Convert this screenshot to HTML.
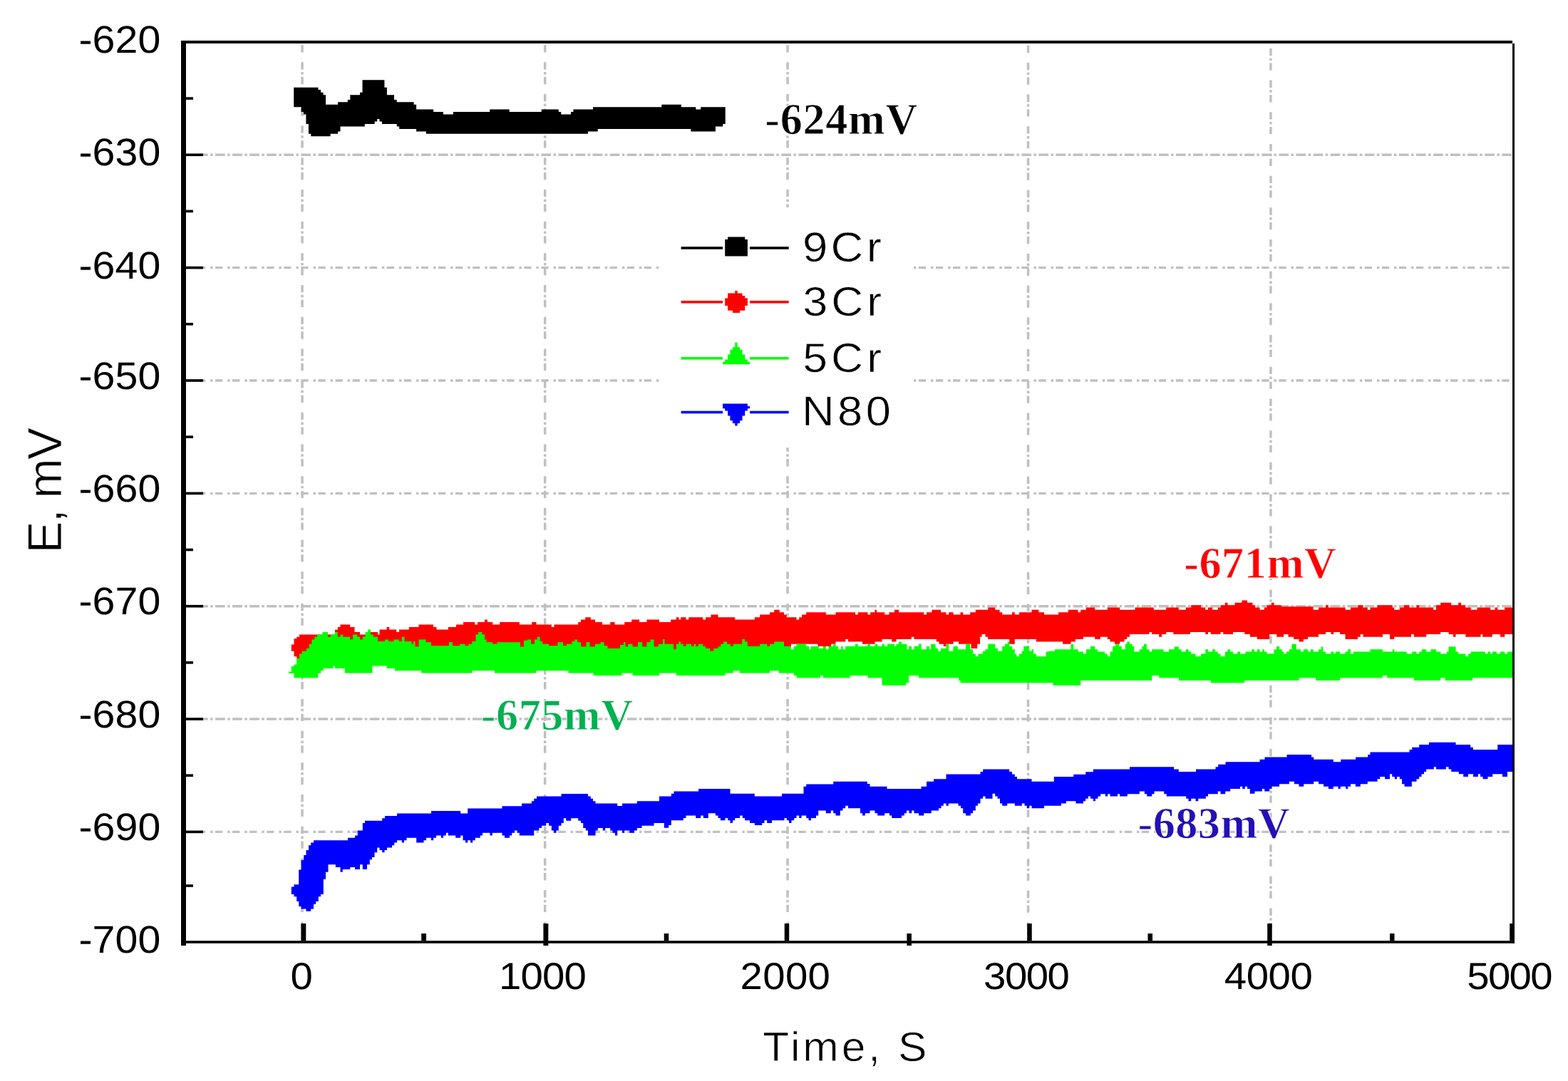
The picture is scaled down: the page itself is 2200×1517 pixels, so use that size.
<!DOCTYPE html>
<html lang="en"><head><meta charset="utf-8"><title>Open circuit potential E (mV) vs Time (S)</title>
<style>html,body{margin:0;padding:0;background:#fff;}body{width:2200px;height:1517px;overflow:hidden;}svg{display:block;}text{white-space:pre;}</style>
</head><body>
<svg width="2200" height="1517" viewBox="0 0 2200 1517" shape-rendering="geometricPrecision">
<rect x="0" y="0" width="2200" height="1517" fill="#ffffff"/>
<g id="grid" fill="none" stroke="#c0c0c0">
<line x1="277.94" y1="217.30" x2="2122" y2="217.30" stroke-width="3.44" stroke-dasharray="13.75 3.44 3.44 3.44"/>
<line x1="277.94" y1="375.65" x2="2122" y2="375.65" stroke-width="3.44" stroke-dasharray="10.3 6.89 3.44 3.44"/>
<line x1="277.94" y1="534.00" x2="2122" y2="534.00" stroke-width="3.44" stroke-dasharray="10.3 6.89 3.44 3.44"/>
<line x1="277.94" y1="692.35" x2="2122" y2="692.35" stroke-width="3.44" stroke-dasharray="10.3 6.89 3.44 3.44"/>
<line x1="277.94" y1="850.70" x2="2122" y2="850.70" stroke-width="3.44" stroke-dasharray="13.75 3.44 3.44 3.44"/>
<line x1="277.94" y1="1009.05" x2="2122" y2="1009.05" stroke-width="3.44" stroke-dasharray="13.75 3.44 3.44 3.44"/>
<line x1="277.94" y1="1167.40" x2="2122" y2="1167.40" stroke-width="3.44" stroke-dasharray="10.3 6.89 3.44 3.44"/>
<line x1="424.05" y1="61" x2="424.05" y2="1320.2" stroke-width="3.5" stroke-dasharray="10.3 3.45 3.45 3.45 10.3 13.74" stroke-dashoffset="18.50"/>
<line x1="764.65" y1="61" x2="764.65" y2="1320.2" stroke-width="3.5" stroke-dasharray="10.3 3.45 3.45 3.45 10.3 13.74" stroke-dashoffset="18.50"/>
<line x1="1105.05" y1="61" x2="1105.05" y2="1320.2" stroke-width="3.5" stroke-dasharray="10.3 3.45 3.45 3.45 10.3 13.74" stroke-dashoffset="18.50"/>
<line x1="1442.55" y1="61" x2="1442.55" y2="1320.2" stroke-width="3.5" stroke-dasharray="10.3 3.45 3.45 3.45 10.3 13.74" stroke-dashoffset="17.80"/>
<line x1="1782.95" y1="61" x2="1782.95" y2="1320.2" stroke-width="3.5" stroke-dasharray="10.3 3.45 3.45 3.45 10.3 13.74" stroke-dashoffset="37.80"/>
</g>
<g id="annotations" shape-rendering="auto" text-rendering="geometricPrecision">
<text transform="translate(1073.35,187.7)" font-family="'Liberation Serif', serif" font-weight="bold" font-size="62.12px" letter-spacing="0.7px" fill="#000000" stroke="#ffffff" stroke-width="0.8" stroke-linejoin="round">-624mV</text>
<text transform="translate(1661.22,810.5)" font-family="'Liberation Serif', serif" font-weight="bold" font-size="62.34px" letter-spacing="0.49px" fill="#ff0000" stroke="#ffffff" stroke-width="0.8" stroke-linejoin="round">-671mV</text>
<text transform="translate(674.78,1023.8)" font-family="'Liberation Serif', serif" font-weight="bold" font-size="62.12px" letter-spacing="0.56px" fill="#00b050" stroke="#ffffff" stroke-width="0.8" stroke-linejoin="round">-675mV</text>
<text transform="translate(1596.58,1175.5)" font-family="'Liberation Serif', serif" font-weight="bold" font-size="62.18px" letter-spacing="0.47px" fill="#2410b4" stroke="#ffffff" stroke-width="0.8" stroke-linejoin="round">-683mV</text>
</g>
<rect x="925" y="291" width="357" height="337" fill="#ffffff"/>
<g id="traces" stroke="none">
<polygon fill="#000000" points="412.2,122.8 446.5,122.8 446.5,126 450,126 450,129.7 453.5,129.7 453.5,133.2 457,133.2 457,146.7 474.1,146.7 474.1,143.2 487.8,143.2 487.8,139.9 491.3,139.9 491.3,133.2 505,133.2 505,129.7 508.5,129.7 508.5,112.2 539.4,112.2 539.4,122.8 542.9,122.8 542.9,133.2 553,133.2 553,139.9 556.7,139.9 556.7,143.2 580.6,143.2 580.6,146.7 584.1,146.7 584.1,153.5 608.1,153.5 608.1,157 621.9,157 621.9,160.4 635.8,160.4 635.8,157 687.2,157 687.2,153.5 714.7,153.5 714.7,157 750,157 759.7,157 759.7,153.5 783.8,153.5 783.8,157 787.2,157 787.2,160.4 801,160.4 801,157 804.4,157 804.4,153.5 832,153.5 832,150.2 928.3,150.2 928.3,146.7 955.8,146.7 955.8,150.2 976.3,150.2 976.3,153.5 983.2,153.5 983.2,150.2 1017.7,150.2 1017.7,174.1 1014.2,174.1 1014.2,177.4 1003.9,177.4 1003.9,184.4 969.3,184.4 969.3,180.9 838.7,180.9 838.7,184.4 824.9,184.4 824.9,187.8 750,187.8 597.8,187.8 597.8,184.4 584.1,184.4 584.1,180.9 560.2,180.9 560.2,177.4 556.7,177.4 556.7,174.1 536,174.1 536,170.6 532.5,170.6 532.5,167.1 529.2,167.1 529.2,170.6 525.7,170.6 525.7,174.1 511.8,174.1 511.8,177.4 477.5,177.4 477.5,184.4 474.1,184.4 474.1,187.8 463.6,187.8 463.6,191.2 436.3,191.2 436.3,187.8 432.9,187.8 432.9,174.1 429.4,174.1 429.4,160.4 425.9,160.4 425.9,157 422.6,157 422.6,150.2 412.2,150.2"/>
<polygon fill="#ff0000" points="408.8,904.5 412.5,904.5 412.5,896.2 416.2,896.2 416.2,893.8 420,893.8 420,890.5 470,890.5 470,883.8 473.8,883.8 473.8,880 477.5,880 477.5,876.5 491.2,876.5 491.2,880 497.5,880 497.5,887 505,887 505,890.5 518.8,890.5 518.8,887 530,887 530,890.5 532.5,890.5 532.5,883.5 542.5,883.5 542.5,880 546.2,880 546.2,883.5 556.2,883.5 556.2,887 560,887 560,883.5 573.8,883.5 573.8,880 587.5,880 587.5,876.5 608,876.5 608,880 612.5,880 612.5,883.5 628.8,883.5 628.8,880 640,880 640,876.5 650,876.5 650,873 666.2,873 666.2,876.5 670,876.5 670,873 680,873 680,869.5 683.8,869.5 683.8,873 691.2,873 691.2,876.5 701.2,876.5 701.2,873 728.8,873 728.8,876.5 746.2,876.5 746.2,873 752.5,873 752.5,876.5 773.8,876.5 773.8,880 777.5,880 777.5,876.5 811.2,876.5 811.2,873 815,873 815,869.5 821.2,869.5 821.2,866.2 828.8,866.2 828.8,869.5 835,869.5 835,873 845,873 845,876.5 856.2,876.5 856.2,873 862.5,873 862.5,876.5 876.2,876.5 876.2,873 886.2,873 886.2,869.5 897,869.5 897,873 907.5,873 907.5,869.5 925,869.5 925,873 930,873 941.2,873 941.2,869.5 948.8,869.5 948.8,866.2 952.5,866.2 952.5,869.5 955,869.5 955,866.2 962.5,866.2 962.5,869.5 966.2,869.5 966.2,866.2 986.2,866.2 986.2,869.5 990,869.5 990,866.2 997.5,866.2 997.5,862.5 1007.5,862.5 1007.5,866.2 1031.2,866.2 1031.2,869.5 1058.8,869.5 1058.8,866.2 1066.2,866.2 1066.2,862.5 1080,862.5 1080,859.2 1086.2,859.2 1086.2,855.8 1093.8,855.8 1093.8,859.2 1100,859.2 1100,862.5 1103.8,862.5 1103.8,866.2 1117.5,866.2 1117.5,869.5 1121.2,869.5 1121.2,866.2 1125,866.2 1125,862.5 1131.2,862.5 1131.2,859.2 1158.8,859.2 1158.8,862.5 1172.5,862.5 1172.5,859.2 1200,859.2 1200,862.5 1203.8,862.5 1203.8,859.2 1217.5,859.2 1217.5,862.5 1221.2,862.5 1221.2,859.2 1227.5,859.2 1227.5,855.8 1230,855.8 1230,859.2 1241.2,859.2 1241.2,862.5 1247.5,862.5 1247.5,859.2 1255,859.2 1255,855.8 1261.2,855.8 1261.2,859.2 1296.2,859.2 1296.2,862.5 1300,862.5 1300,859.2 1307.5,859.2 1307.5,855.8 1320,855.8 1320,859.2 1327.5,859.2 1327.5,862.5 1331.2,862.5 1331.2,859.2 1337.5,859.2 1337.5,862.5 1347.5,862.5 1347.5,859.2 1351.2,859.2 1351.2,862.5 1361.2,862.5 1361.2,859.2 1368.8,859.2 1368.8,855.8 1386.2,855.8 1386.2,852.5 1396.2,852.5 1396.2,855.8 1402.5,855.8 1402.5,859.2 1406.2,859.2 1406.2,862.5 1420,862.5 1420,859.2 1423.8,859.2 1423.8,862.5 1430,862.5 1430,859.2 1447.5,859.2 1447.5,855.8 1457.5,855.8 1457.5,859.2 1465,859.2 1465,862.5 1480,862.5 1485,862.5 1485,859.2 1498.8,859.2 1498.8,855.8 1512.5,855.8 1512.5,859.2 1516.2,859.2 1516.2,855.8 1523.8,855.8 1523.8,852.5 1536.2,852.5 1536.2,855.8 1553.8,855.8 1553.8,852.5 1571.2,852.5 1571.2,855.8 1592.5,855.8 1592.5,852.5 1618.8,852.5 1618.8,855.8 1636.2,855.8 1636.2,852.5 1653.8,852.5 1653.8,855.8 1663.8,855.8 1663.8,852.5 1671.2,852.5 1671.2,849.2 1685,849.2 1685,852.5 1691.2,852.5 1691.2,855.8 1695,855.8 1695,852.5 1701.2,852.5 1701.2,855.8 1708.8,855.8 1708.8,852.5 1712.5,852.5 1712.5,849.2 1718.8,849.2 1718.8,845.8 1722.5,845.8 1722.5,849.2 1732.5,849.2 1732.5,845.8 1742.5,845.8 1742.5,842.5 1750,842.5 1750,845.8 1757.5,845.8 1757.5,849.2 1761.2,849.2 1761.2,852.5 1767.5,852.5 1767.5,855.8 1773.8,855.8 1773.8,852.5 1777.5,852.5 1777.5,849.2 1783.8,849.2 1783.8,845.8 1787.5,845.8 1787.5,849.2 1797.5,849.2 1797.5,851.2 1842.5,851.2 1842.5,855.8 1850,855.8 1850,852.5 1860,852.5 1860,849.2 1863.8,849.2 1863.8,852.5 1887.5,852.5 1887.5,855.8 1895,855.8 1895,852.5 1905,852.5 1905,849.2 1912.5,849.2 1912.5,852.5 1918.8,852.5 1918.8,855.8 1922.5,855.8 1922.5,852.5 1932.5,852.5 1932.5,849.2 1953.8,849.2 1953.8,852.5 1956.2,852.5 1956.2,855.8 1963.8,855.8 1963.8,852.5 1970,852.5 1970,849.2 1977.5,849.2 1977.5,852.5 1987.5,852.5 1987.5,849.2 1991.2,849.2 1991.2,852.5 2011.2,852.5 2011.2,855.8 2015,855.8 2015,849.2 2021.2,849.2 2021.2,845.8 2030,845.8 2036.2,845.8 2036.2,849.2 2046.2,849.2 2046.2,845.8 2050,845.8 2050,849.2 2056.2,849.2 2056.2,852.5 2063.8,852.5 2063.8,855.8 2072.5,855.8 2072.5,852.5 2091.2,852.5 2091.2,855.8 2097.5,855.8 2097.5,852.5 2101.2,852.5 2101.2,855.8 2111.2,855.8 2111.2,852.5 2122,852.5 2122,890 2111.2,890 2111.2,893.8 2105,893.8 2105,890 2093.8,890 2093.8,893.8 2080,893.8 2080,890 2077.5,890 2077.5,893.8 2056.2,893.8 2056.2,890 2042.5,890 2042.5,893.8 2038.8,893.8 2038.8,890 2032.5,890 2032.5,887 2030,887 2021.2,887 2021.2,890 2001.2,890 2001.2,893.8 1983.8,893.8 1983.8,890 1980,890 1980,893.8 1956.2,893.8 1956.2,897 1950,897 1950,890 1940,890 1940,893.8 1912.5,893.8 1912.5,890 1908.8,890 1908.8,893.8 1905,893.8 1905,897 1887.5,897 1887.5,890 1880,890 1880,887 1871.2,887 1871.2,890 1867.5,890 1867.5,887 1860,887 1860,890 1850,890 1850,893.8 1835,893.8 1835,897 1828.8,897 1828.8,900.5 1822.5,900.5 1822.5,897 1815,897 1815,893.8 1807.5,893.8 1807.5,890 1801.2,890 1801.2,893.8 1791.2,893.8 1791.2,890 1781.2,890 1781.2,897 1763.8,897 1763.8,893.8 1753.8,893.8 1753.8,890 1746.2,890 1746.2,887 1730,887 1730,890 1716.2,890 1716.2,887 1712.5,887 1712.5,890 1698.8,890 1698.8,887 1695,887 1695,890 1691.2,890 1691.2,887 1670,887 1670,890 1646.2,890 1646.2,887 1636.2,887 1636.2,890 1630,890 1630,893.8 1626.2,893.8 1626.2,890 1616.2,890 1616.2,887 1612.5,887 1612.5,890 1585,890 1585,893.8 1581.2,893.8 1581.2,897 1577.5,897 1577.5,900.5 1571.2,900.5 1571.2,903.8 1563.8,903.8 1563.8,900.5 1557.5,900.5 1557.5,897 1553.8,897 1553.8,893.8 1543.8,893.8 1543.8,897 1536.2,897 1536.2,893.8 1520,893.8 1520,897 1508.8,897 1508.8,900.5 1502.5,900.5 1502.5,903.8 1491.2,903.8 1491.2,900.5 1480,900.5 1453.8,900.5 1453.8,897 1423.8,897 1423.8,903.8 1416.2,903.8 1416.2,897 1386.2,897 1386.2,893.8 1382.5,893.8 1382.5,890 1377.5,890 1377.5,893.8 1375,893.8 1375,903.8 1371.2,903.8 1371.2,910 1362.5,910 1362.5,903.8 1345,903.8 1345,900.5 1337.5,900.5 1337.5,903.8 1327.5,903.8 1327.5,907 1323.8,907 1323.8,903.8 1317.5,903.8 1317.5,900.5 1313.8,900.5 1313.8,897 1282.5,897 1282.5,893.8 1278.8,893.8 1278.8,897 1257.5,897 1257.5,900.5 1251.2,900.5 1251.2,897 1237.5,897 1237.5,900.5 1227.5,900.5 1227.5,903.8 1210,903.8 1210,900.5 1190,900.5 1190,897 1186.2,897 1186.2,900.5 1172.5,900.5 1172.5,903.8 1166.2,903.8 1166.2,907 1147.5,907 1147.5,903.8 1110,903.8 1110,915 930,915 930,925 416.2,925 416.2,921.2 412.5,921.2 412.5,913.8 408.8,913.8"/>
<polygon fill="#00ff00" points="405,942.5 408.8,942.5 408.8,935 412.5,935 412.5,932.5 416.2,932.5 416.2,923.8 420,923.8 420,917.5 423.8,917.5 423.8,913.8 430,913.8 430,910 433.8,910 433.8,903.8 437.5,903.8 437.5,897.5 441.2,897.5 441.2,893.8 445,893.8 445,890.5 452.5,890.5 452.5,887 460,887 460,893.8 463.8,893.8 463.8,890.5 466.2,890.5 466.2,890 470,890 470,887 473.8,887 473.8,893.8 477.5,893.8 477.5,890.5 481.2,890.5 481.2,893.8 491.2,893.8 491.2,897.5 495,897.5 495,890.5 501.2,890.5 501.2,893.8 505,893.8 505,897.5 508.8,897.5 508.8,893.8 512.5,893.8 512.5,887 516.2,887 516.2,883.5 520,883.5 520,890.5 523.8,890.5 523.8,893.8 530,893.8 530,900 540,900 540,897.5 545,897.5 545,900 552.5,900 552.5,897.5 560,897.5 560,900 563.8,900 563.8,893.8 567.5,893.8 567.5,900 577.5,900 577.5,903.8 580,903.8 580,900 582.5,900 582.5,907.5 587.5,907.5 587.5,897.5 593.8,897.5 597.5,897.5 597.5,901.2 605,901.2 605,906.2 625,906.2 630,906.2 630,901.2 635,901.2 635,906.2 645,906.2 645,903.8 652.5,903.8 652.5,906.2 657.5,906.2 657.5,903.8 662.5,903.8 662.5,900 667.5,900 667.5,890.5 671.2,890.5 671.2,887 676.2,887 676.2,890.5 680,890.5 680,897.5 682.5,897.5 682.5,901.2 691.2,901.2 691.2,903.8 697.5,903.8 697.5,901.2 727.5,901.2 730,901.2 730,907.5 735,907.5 735,898.8 740,898.8 740,897.5 745,897.5 745,903.8 750,903.8 750,897.5 753.8,897.5 753.8,893.8 757.5,893.8 757.5,900 761.2,900 761.2,903.8 770,903.8 770,906.2 780,906.2 782.5,906.2 782.5,901.2 790,901.2 790,906.2 795,906.2 795,903.8 802.5,903.8 802.5,900 806.2,900 806.2,897.5 810,897.5 810,901.2 815,901.2 815,907.5 822.5,907.5 822.5,901.2 827.5,901.2 827.5,907.5 835,907.5 835,903.8 842.5,903.8 842.5,901.2 847.5,901.2 847.5,906.2 852.5,906.2 852.5,910 865,910 870,910 870,905 875,905 875,901.2 877.5,901.2 877.5,907.5 881.2,907.5 881.2,903.8 887.5,903.8 887.5,907.5 895,907.5 895,901.2 901.2,901.2 901.2,907.5 907.5,907.5 907.5,901.2 912.5,901.2 912.5,897.5 917.5,897.5 917.5,907.5 923.8,907.5 923.8,903.8 930,903.8 930,897 932.5,897 932.5,903.8 945,903.8 945,911.2 948.8,911.2 948.8,903.8 952.5,903.8 952.5,900.5 955,900.5 955,903.8 958.8,903.8 958.8,907 962.5,907 962.5,903.8 970,903.8 970,907 973.8,907 973.8,903.8 976.2,903.8 976.2,907 980,907 980,903.8 986.2,903.8 986.2,907 990,907 990,910 996.2,910 996.2,913.8 1001.2,913.8 1001.2,910 1007.5,910 1007.5,907.5 1011.2,907.5 1011.2,903.8 1015,903.8 1015,900.5 1020,900.5 1020,903.8 1025,903.8 1025,907 1028.8,907 1028.8,903.8 1041.2,903.8 1041.2,897 1045,897 1045,900.5 1048.8,900.5 1048.8,907 1066.2,907 1066.2,903.8 1076.2,903.8 1076.2,907 1080,907 1080,903.8 1086.2,903.8 1086.2,900.5 1100,900.5 1100,907 1110,907 1110,911.2 1113.8,911.2 1113.8,907 1117.5,907 1117.5,903.8 1131.2,903.8 1131.2,907 1135,907 1135,911.2 1137.5,911.2 1137.5,907 1148.8,907 1148.8,910 1155,910 1155,907 1158.8,907 1158.8,911.2 1162.5,911.2 1162.5,907 1168.8,907 1168.8,903.8 1172.5,903.8 1172.5,907 1176.2,907 1176.2,911.2 1180,911.2 1180,907 1182.5,907 1182.5,911.2 1186.2,911.2 1186.2,907 1200,907 1200,903.8 1203.8,903.8 1203.8,907 1217.5,907 1217.5,903.8 1221.2,903.8 1221.2,907 1227.5,907 1227.5,903.8 1231.2,903.8 1231.2,907 1237.5,907 1237.5,903.8 1241.2,903.8 1241.2,907 1245,907 1245,903.8 1255,903.8 1255,907 1257.5,907 1257.5,903.8 1261.2,903.8 1261.2,900.5 1265,900.5 1265,903.8 1272.5,903.8 1272.5,911.2 1275,911.2 1275,907 1278.8,907 1278.8,911.2 1282.5,911.2 1282.5,907 1288.8,907 1288.8,903.8 1292.5,903.8 1292.5,911.2 1300,911.2 1300,907 1303.8,907 1303.8,911.2 1306.2,911.2 1306.2,903.8 1312.5,903.8 1312.5,910 1316.2,910 1316.2,913.8 1320,913.8 1320,910 1327.5,910 1327.5,903.8 1331.2,903.8 1331.2,913.8 1337.5,913.8 1337.5,907 1343.8,907 1343.8,911.2 1355,911.2 1355,903.8 1361.2,903.8 1361.2,911.2 1365,911.2 1365,917.5 1368.8,917.5 1368.8,921.2 1372.5,921.2 1372.5,917.5 1378.8,917.5 1378.8,913.8 1382.5,913.8 1382.5,911.2 1386.2,911.2 1386.2,903.8 1396.2,903.8 1396.2,910 1400,910 1400,913.8 1406.2,913.8 1406.2,907 1410,907 1410,903.8 1413.8,903.8 1413.8,900.5 1416.2,900.5 1416.2,907 1420,907 1420,911.2 1423.8,911.2 1423.8,917.5 1426.2,917.5 1426.2,921.2 1430,921.2 1430,917.5 1433.8,917.5 1433.8,913.8 1436.2,913.8 1436.2,907 1443.8,907 1443.8,913.8 1447.5,913.8 1447.5,911.2 1450,911.2 1450,917.5 1453.8,917.5 1453.8,921.2 1467.5,921.2 1467.5,914.5 1471.2,914.5 1471.2,913.8 1480,913.8 1480,911.2 1502.5,911.2 1502.5,903.8 1506.2,903.8 1506.2,911.2 1512.5,911.2 1512.5,914.5 1520,914.5 1520,917.5 1523.8,917.5 1523.8,911.2 1530,911.2 1530,907 1536.2,907 1536.2,911.2 1540,911.2 1540,914.5 1550,914.5 1550,917.5 1553.8,917.5 1553.8,921.2 1557.5,921.2 1557.5,914.5 1561.2,914.5 1561.2,907 1565,907 1565,903.8 1570,903.8 1570,907 1573.8,907 1573.8,911.2 1578.8,911.2 1578.8,903.8 1581.2,903.8 1581.2,900.5 1585,900.5 1585,903.8 1588.8,903.8 1588.8,907 1591.2,907 1591.2,914.5 1598.8,914.5 1598.8,911.2 1602.5,911.2 1602.5,907 1605,907 1605,903.8 1608.8,903.8 1608.8,911.2 1612.5,911.2 1612.5,914.5 1616.2,914.5 1616.2,911.2 1632.5,911.2 1632.5,914.5 1640,914.5 1640,911.2 1647.5,911.2 1647.5,907.5 1653.8,907.5 1653.8,911.2 1657.5,911.2 1657.5,914.5 1663.8,914.5 1663.8,911.2 1667.5,911.2 1667.5,914.5 1671.2,914.5 1671.2,917.5 1677.5,917.5 1677.5,921.2 1685,921.2 1685,917.5 1691.2,917.5 1691.2,911.2 1695,911.2 1695,914.5 1701.2,914.5 1701.2,911.2 1705,911.2 1705,914.5 1708.8,914.5 1708.8,917.5 1712.5,917.5 1712.5,921.2 1718.8,921.2 1718.8,914.5 1722.5,914.5 1722.5,911.2 1726.2,911.2 1726.2,914.5 1730,914.5 1730,917.5 1736.2,917.5 1736.2,914.5 1740,914.5 1740,917.5 1747.5,917.5 1747.5,914.5 1756.2,914.5 1756.2,911.2 1760,911.2 1760,914.5 1763.8,914.5 1763.8,911.2 1767.5,911.2 1767.5,914.5 1771.2,914.5 1771.2,911.2 1773.8,911.2 1773.8,914.5 1777.5,914.5 1777.5,917.5 1787.5,917.5 1787.5,911.2 1791.2,911.2 1791.2,907 1795,907 1795,911.2 1798.8,911.2 1798.8,914.5 1801.2,914.5 1801.2,917.5 1805,917.5 1805,914.5 1808.8,914.5 1808.8,911.2 1812.5,911.2 1812.5,903.8 1818.8,903.8 1818.8,911.2 1825,911.2 1825,914.5 1828.8,914.5 1828.8,911.2 1835,911.2 1835,914.5 1838.8,914.5 1838.8,911.2 1842.5,911.2 1842.5,914.5 1850,914.5 1850,911.2 1853.8,911.2 1853.8,907.5 1856.2,907.5 1856.2,914.5 1860,914.5 1860,917.5 1867.5,917.5 1867.5,914.5 1871.2,914.5 1871.2,917.5 1873.8,917.5 1873.8,914.5 1880,914.5 1880,917.5 1887.5,917.5 1887.5,914.5 1891.2,914.5 1891.2,911.2 1895,911.2 1895,917.5 1898.8,917.5 1898.8,914.5 1922.5,914.5 1922.5,911.2 1940,911.2 1940,914.5 1953.8,914.5 1953.8,911.2 1956.2,911.2 1956.2,914.5 1973.8,914.5 1973.8,917.5 1981.2,917.5 1981.2,914.5 1987.5,914.5 1987.5,917.5 1991.2,917.5 1991.2,914.5 1995,914.5 1995,911.2 2001.2,911.2 2001.2,914.5 2007.5,914.5 2007.5,911.2 2015,911.2 2015,914.5 2021.2,914.5 2021.2,917.5 2030,917.5 2030,914.5 2032.5,914.5 2032.5,907.5 2042.5,907.5 2042.5,914.5 2046.2,914.5 2046.2,917.5 2056.2,917.5 2056.2,921.2 2060,921.2 2060,917.5 2063.8,917.5 2063.8,914.5 2083.8,914.5 2083.8,917.5 2087.5,917.5 2087.5,914.5 2091.2,914.5 2091.2,917.5 2093.8,917.5 2093.8,914.5 2100,914.5 2100,917.5 2105,917.5 2105,914.5 2111.2,914.5 2111.2,917.5 2115,917.5 2115,914.5 2122,914.5 2122,951.2 2066.2,951.2 2066.2,955 2030,955 2027.5,955 2027.5,951.2 2021.2,951.2 2021.2,955 1983.8,955 1983.8,951.2 1946.2,951.2 1946.2,948 1940,948 1940,951.2 1880,951.2 1880,955 1846.2,955 1846.2,951.2 1822.5,951.2 1822.5,955 1746.2,955 1746.2,958.2 1698.8,958.2 1698.8,955 1653.8,955 1653.8,951.2 1626.2,951.2 1626.2,948 1616.2,948 1616.2,955 1516.2,955 1516.2,961.8 1480,961.8 1477.5,961.8 1477.5,958.2 1347.5,958.2 1347.5,955 1345,955 1345,951.2 1288.8,951.2 1288.8,948 1275,948 1275,958.2 1271.2,958.2 1271.2,961.8 1237.5,961.8 1237.5,951.2 1217.5,951.2 1217.5,948 1192.5,948 1192.5,951.2 1155,951.2 1155,948 1151.2,948 1151.2,951.2 1117.5,951.2 1117.5,948 1113.8,948 1113.8,944.5 1092.5,944.5 1092.5,941.2 1080,941.2 1080,944.5 1037.5,944.5 1037.5,941.2 1028.8,941.2 1028.8,944.5 1017.5,944.5 1017.5,948 948.8,948 948.8,944.5 930,944.5 925,944.5 925,948 887.5,948 887.5,944.5 872.5,944.5 872.5,948 832.5,948 832.5,944.5 797.5,944.5 797.5,941.2 752.5,941.2 752.5,944.5 693.8,944.5 693.8,941.2 662.5,941.2 662.5,944.5 591.2,944.5 591.2,941.2 553.8,941.2 553.8,938 542.5,938 542.5,934.5 522.5,934.5 522.5,944.5 483.8,944.5 483.8,938 470,938 470,934.5 467.5,934.5 467.5,938 453.8,938 453.8,941.2 450,941.2 450,945 446.2,945 446.2,951.2 412.5,951.2 412.5,945 405,945"/>
<polygon fill="#0000ff" points="408.8,1244.5 412.5,1244.5 412.5,1241.2 419.2,1241.2 419.2,1220.5 422.5,1220.5 422.5,1207 426.2,1207 426.2,1200 429.5,1200 429.5,1193 433,1193 433,1186.2 436.2,1186.2 436.2,1182.5 440,1182.5 440,1179.2 488,1179.2 488,1175.8 498,1175.8 498,1172.5 501.8,1172.5 501.8,1165.5 508.8,1165.5 508.8,1155 512,1155 512,1151.8 536.2,1151.8 536.2,1148.2 540,1148.2 540,1145 557,1145 557,1141.5 605,1141.5 605,1138 646.2,1138 646.2,1141.5 656.2,1141.5 656.2,1134.5 704.5,1134.5 704.5,1131.2 732,1131.2 732,1127.5 745.8,1127.5 745.8,1124.2 749.2,1124.2 749.2,1120.8 753,1120.8 753,1117.5 787.5,1117.5 787.5,1114 825,1114 825,1117.5 828.8,1117.5 828.8,1120.8 832,1120.8 832,1124.2 835.5,1124.2 835.5,1127.5 866.2,1127.5 866.2,1131 873,1131 873,1127.5 893.8,1127.5 893.8,1124.2 925,1124.2 925,1117.5 930,1117.5 941.8,1117.5 941.8,1113.8 945.5,1113.8 945.5,1110.5 980,1110.5 980,1107 1024.5,1107 1024.5,1113.8 1058.8,1113.8 1058.8,1117.5 1097,1117.5 1097,1113.8 1127.5,1113.8 1127.5,1103.8 1131.2,1103.8 1131.2,1100.5 1169.2,1100.5 1169.2,1096.8 1216.8,1096.8 1216.8,1100 1220.5,1100 1220.5,1103.8 1244.5,1103.8 1244.5,1107 1292.5,1107 1292.5,1103.8 1300,1103.8 1300,1096.8 1310,1096.8 1310,1093.2 1327.5,1093.2 1327.5,1086.5 1375.5,1086.5 1375.5,1083 1379.2,1083 1379.2,1079.5 1416.2,1079.5 1416.2,1083 1420,1083 1420,1086.5 1423.8,1086.5 1423.8,1090 1427,1090 1427,1093.2 1447.5,1093.2 1447.5,1096.8 1478.8,1096.8 1478.8,1090 1480,1090 1506.2,1090 1506.2,1086.8 1523.2,1086.8 1523.2,1083.2 1533.8,1083.2 1533.8,1079.5 1585,1079.5 1585,1076.2 1647,1076.2 1647,1079.5 1653.8,1079.5 1653.8,1083 1678,1083 1678,1079.5 1705.5,1079.5 1705.5,1076.2 1709.2,1076.2 1709.2,1072.8 1719.5,1072.8 1719.5,1069.2 1767.5,1069.2 1767.5,1065.8 1774.5,1065.8 1774.5,1062.5 1805.5,1062.5 1805.5,1059 1840,1059 1840,1062.5 1843.2,1062.5 1843.2,1065.8 1870.8,1065.8 1870.8,1069.2 1881.2,1069.2 1881.2,1065.8 1902,1065.8 1902,1062.5 1919.2,1062.5 1919.2,1059 1922.5,1059 1922.5,1055.5 1977.5,1055.5 1977.5,1052 1981.2,1052 1981.2,1048.8 1991.2,1048.8 1991.2,1045 2005,1045 2005,1041.8 2030,1041.8 2042.5,1041.8 2042.5,1045 2063.2,1045 2063.2,1048.8 2066.8,1048.8 2066.8,1052 2101.2,1052 2101.2,1045 2122,1045 2122,1083 2115,1083 2115,1090 2108,1090 2108,1086.2 2094.2,1086.2 2094.2,1090 2087.5,1090 2087.5,1093.2 2080.5,1093.2 2080.5,1090 2077,1090 2077,1086.2 2073.8,1086.2 2073.8,1090 2067,1090 2067,1086.2 2060,1086.2 2060,1090 2053.2,1090 2053.2,1086.2 2046.8,1086.2 2046.8,1083 2036.2,1083 2036.2,1079.5 2032.5,1079.5 2032.5,1076.2 2030,1076.2 2028.8,1076.2 2028.8,1079.5 2015,1079.5 2015,1076.2 2011.8,1076.2 2011.8,1079.5 2001.2,1079.5 2001.2,1083 1998,1083 1998,1086.2 1994.5,1086.2 1994.5,1090 1991.2,1090 1991.2,1093.2 1987.5,1093.2 1987.5,1096.8 1980.8,1096.8 1980.8,1103.8 1970.5,1103.8 1970.5,1100.2 1967,1100.2 1967,1093.2 1963.8,1093.2 1963.8,1090 1960,1090 1960,1093.2 1956.8,1093.2 1956.8,1090 1953.2,1090 1953.2,1086.2 1950,1086.2 1950,1093.2 1943,1093.2 1943,1090 1936.2,1090 1936.2,1093.2 1932.5,1093.2 1932.5,1096.8 1918.8,1096.8 1918.8,1100.2 1908.8,1100.2 1908.8,1103.8 1901.8,1103.8 1901.8,1100.2 1895,1100.2 1895,1103.8 1891.2,1103.8 1891.2,1107 1888,1107 1888,1103.8 1880.8,1103.8 1880.8,1107 1877.5,1107 1877.5,1103.8 1870.8,1103.8 1870.8,1107 1863.8,1107 1863.8,1103.8 1857,1103.8 1857,1100.2 1850,1100.2 1850,1096.8 1843.2,1096.8 1843.2,1100.2 1829.2,1100.2 1829.2,1103.8 1822.5,1103.8 1822.5,1100.2 1815.8,1100.2 1815.8,1096.8 1808.8,1096.8 1808.8,1100.2 1795,1100.2 1795,1103.8 1784.5,1103.8 1784.5,1107 1781.2,1107 1781.2,1110.5 1774.2,1110.5 1774.2,1107 1770.8,1107 1770.8,1110.5 1760.5,1110.5 1760.5,1113.8 1753.8,1113.8 1753.8,1107 1750,1107 1750,1103.8 1746.8,1103.8 1746.8,1107 1743.2,1107 1743.2,1103.8 1740,1103.8 1740,1107 1726.2,1107 1726.2,1110.5 1719.2,1110.5 1719.2,1114.2 1712.5,1114.2 1712.5,1110.5 1708.8,1110.5 1708.8,1114.2 1695,1114.2 1695,1117.5 1691.8,1117.5 1691.8,1120.8 1681.2,1120.8 1681.2,1124.2 1677.5,1124.2 1677.5,1120.8 1671.2,1120.8 1671.2,1124.2 1667.5,1124.2 1667.5,1120.8 1664.2,1120.8 1664.2,1117.5 1636.8,1117.5 1636.8,1114.2 1633.2,1114.2 1633.2,1110.5 1619.5,1110.5 1619.5,1114.2 1616.2,1114.2 1616.2,1117.5 1609.2,1117.5 1609.2,1114.2 1605.8,1114.2 1605.8,1110.5 1598.8,1110.5 1598.8,1114.2 1581.8,1114.2 1581.8,1117.5 1571.2,1117.5 1571.2,1114.2 1568,1114.2 1568,1117.5 1557.5,1117.5 1557.5,1114.2 1554.2,1114.2 1554.2,1117.5 1550.8,1117.5 1550.8,1114.2 1544.2,1114.2 1544.2,1117.5 1540.5,1117.5 1540.5,1120.8 1537,1120.8 1537,1124.2 1533.8,1124.2 1533.8,1120.8 1530,1120.8 1530,1117.5 1526.8,1117.5 1526.8,1120.8 1523.2,1120.8 1523.2,1124.2 1520,1124.2 1520,1127.5 1509.5,1127.5 1509.5,1124.2 1495.8,1124.2 1495.8,1127.5 1488.8,1127.5 1488.8,1130.8 1480,1130.8 1465,1130.8 1465,1134.2 1447.5,1134.2 1447.5,1130.8 1444.2,1130.8 1444.2,1134.2 1440.8,1134.2 1440.8,1130.8 1437.5,1130.8 1437.5,1127.5 1433.8,1127.5 1433.8,1130.8 1423.8,1130.8 1423.8,1127.5 1413.2,1127.5 1413.2,1130.8 1406.2,1130.8 1406.2,1127.5 1403,1127.5 1403,1120.8 1399.5,1120.8 1399.5,1117.5 1396.2,1117.5 1396.2,1113.8 1392.5,1113.8 1392.5,1120.8 1382.5,1120.8 1382.5,1117.5 1379.2,1117.5 1379.2,1120.8 1375.5,1120.8 1375.5,1127.5 1372,1127.5 1372,1130.8 1368.8,1130.8 1368.8,1137.5 1365,1137.5 1365,1141.2 1361.8,1141.2 1361.8,1144.5 1355,1144.5 1355,1141.2 1351.2,1141.2 1351.2,1134.2 1348,1134.2 1348,1130.8 1344.5,1130.8 1344.5,1127.5 1330.8,1127.5 1330.8,1130.8 1327.5,1130.8 1327.5,1127.5 1323.8,1127.5 1323.8,1130.8 1320.5,1130.8 1320.5,1134.2 1317,1134.2 1317,1137.5 1306.8,1137.5 1306.8,1141.2 1296.2,1141.2 1296.2,1144.5 1289.2,1144.5 1289.2,1141.2 1282.5,1141.2 1282.5,1137.5 1279.2,1137.5 1279.2,1141.2 1275.5,1141.2 1275.5,1137.5 1272,1137.5 1272,1141.2 1268.8,1141.2 1268.8,1144.5 1265,1144.5 1265,1148 1251.2,1148 1251.2,1144.5 1248,1144.5 1248,1141.2 1241.2,1141.2 1241.2,1144.5 1231.2,1144.5 1231.2,1141.2 1227.5,1141.2 1227.5,1137.5 1220.5,1137.5 1220.5,1141.2 1213.8,1141.2 1213.8,1144.5 1210,1144.5 1210,1141.2 1207,1141.2 1207,1134.2 1190,1134.2 1190,1130.8 1186.2,1130.8 1186.2,1134.2 1182.5,1134.2 1182.5,1137.5 1178.8,1137.5 1178.8,1144.5 1172.5,1144.5 1172.5,1141.2 1169.2,1141.2 1169.2,1137.5 1165.8,1137.5 1165.8,1141.2 1158.8,1141.2 1158.8,1137.5 1148.2,1137.5 1148.2,1144.5 1145,1144.5 1145,1148 1138,1148 1138,1151.2 1134.5,1151.2 1134.5,1148 1131.2,1148 1131.2,1144.5 1124.5,1144.5 1124.5,1148 1121.2,1148 1121.2,1144.5 1117.5,1144.5 1117.5,1148 1114.2,1148 1114.2,1151.2 1110.5,1151.2 1110.5,1155 1107,1155 1107,1151.2 1103.8,1151.2 1103.8,1148 1100.5,1148 1100.5,1151.2 1083,1151.2 1083,1155 1076.2,1155 1076.2,1151.2 1072.5,1151.2 1072.5,1155 1069.2,1155 1069.2,1158 1058.8,1158 1058.8,1155 1052,1155 1052,1151.2 1045,1151.2 1045,1148 1041.8,1148 1041.8,1144.5 1038.2,1144.5 1038.2,1148 1031.2,1148 1031.2,1151.2 1028,1151.2 1028,1155 1024.5,1155 1024.5,1151.2 1021.2,1151.2 1021.2,1148 1017.5,1148 1017.5,1151.2 1010.8,1151.2 1010.8,1148 1007.5,1148 1007.5,1144.5 1003.8,1144.5 1003.8,1141.2 993.8,1141.2 993.8,1148 986.8,1148 986.8,1144.5 983.2,1144.5 983.2,1148 976.2,1148 976.2,1144.5 962.5,1144.5 962.5,1148 958.8,1148 958.8,1151.2 941.8,1151.2 941.8,1158 938.2,1158 938.2,1161.8 931.8,1161.8 931.8,1155 930,1155 917.5,1155 917.5,1158.8 900.5,1158.8 900.5,1162 893.8,1162 893.8,1165.5 890,1165.5 890,1168.8 883.2,1168.8 883.2,1165.5 876.2,1165.5 876.2,1168.8 873,1168.8 873,1165.5 866.2,1165.5 866.2,1172.5 863,1172.5 863,1168.8 859.5,1168.8 859.5,1165.5 856.2,1165.5 856.2,1162 849.2,1162 849.2,1165.5 845.8,1165.5 845.8,1162 838.8,1162 838.8,1165.5 835.5,1165.5 835.5,1172.5 825,1172.5 825,1165.5 821.8,1165.5 821.8,1162 818.2,1162 818.2,1155 815,1155 815,1151.8 811.2,1151.8 811.2,1148.2 801.2,1148.2 801.2,1151.8 794.2,1151.8 794.2,1148.2 790.8,1148.2 790.8,1155 787.5,1155 787.5,1158.8 783.8,1158.8 783.8,1165.5 780.5,1165.5 780.5,1168.8 777,1168.8 777,1165.5 773.8,1165.5 773.8,1158.8 770,1158.8 770,1155 766.2,1155 766.2,1158.8 760,1158.8 760,1162 756.2,1162 756.2,1165.5 749.2,1165.5 749.2,1172.5 728.8,1172.5 728.8,1168.8 725.5,1168.8 725.5,1165.5 722,1165.5 722,1168.8 718.2,1168.8 718.2,1172.5 715,1172.5 715,1175.8 708,1175.8 708,1172.5 704.5,1172.5 704.5,1168.8 690.8,1168.8 690.8,1172.5 687.5,1172.5 687.5,1168.8 677,1168.8 677,1172.5 673.8,1172.5 673.8,1175.8 666.8,1175.8 666.8,1179.2 663.2,1179.2 663.2,1182.5 660,1182.5 660,1179.2 656.2,1179.2 656.2,1182.5 653,1182.5 653,1179.2 649.5,1179.2 649.5,1172.5 646.2,1172.5 646.2,1175.8 639.2,1175.8 639.2,1172.5 628.8,1172.5 628.8,1168.8 625.8,1168.8 625.8,1172.5 622,1172.5 622,1175.8 618.8,1175.8 618.8,1172.5 612,1172.5 612,1175.8 608.2,1175.8 608.2,1179.2 605,1179.2 605,1175.8 598,1175.8 598,1179.2 594.5,1179.2 594.5,1182.5 584.2,1182.5 584.2,1175.8 570.5,1175.8 570.5,1179.2 567,1179.2 567,1182.5 563.8,1182.5 563.8,1179.2 557,1179.2 557,1182.5 553.2,1182.5 553.2,1186.2 550,1186.2 550,1189.5 543,1189.5 543,1193 539.5,1193 539.5,1196.2 536.2,1196.2 536.2,1193 532.5,1193 532.5,1189.5 529.2,1189.5 529.2,1196.2 525.5,1196.2 525.5,1203 522,1203 522,1206.2 518.8,1206.2 518.8,1213.2 515,1213.2 515,1220 508.8,1220 508.8,1213.2 505,1213.2 505,1220 498,1220 498,1217 491.2,1217 491.2,1220 480.8,1220 480.8,1223.8 477.5,1223.8 477.5,1217 470.8,1217 470.8,1213.2 460.5,1213.2 460.5,1223.8 457,1223.8 457,1233.8 453.8,1233.8 453.8,1255 450,1255 450,1258.2 446.8,1258.2 446.8,1265 443.2,1265 443.2,1268.8 440,1268.8 440,1275.5 436.2,1275.5 436.2,1278.8 429.5,1278.8 429.5,1275.5 422.5,1275.5 422.5,1272 419.2,1272 419.2,1265 416.2,1265 416.2,1258.2 412.5,1258.2 412.5,1255 408.8,1255"/>
</g>
<g id="axes" fill="#000000" stroke="none">
<rect x="254" y="57" width="7" height="1270"/>
<rect x="254" y="57" width="1868" height="4"/>
<rect x="2122" y="61" width="3" height="1262.8"/>
<rect x="254" y="1320.2" width="1871" height="3.6"/>
<rect x="261" y="215.50" width="24" height="3.6"/>
<rect x="261" y="373.85" width="24" height="3.6"/>
<rect x="261" y="532.20" width="24" height="3.6"/>
<rect x="261" y="690.55" width="24" height="3.6"/>
<rect x="261" y="848.90" width="24" height="3.6"/>
<rect x="261" y="1007.25" width="24" height="3.6"/>
<rect x="261" y="1165.60" width="24" height="3.6"/>
<rect x="261" y="136.30" width="10" height="3.6"/>
<rect x="261" y="294.65" width="10" height="3.6"/>
<rect x="261" y="453.00" width="10" height="3.6"/>
<rect x="261" y="611.35" width="10" height="3.6"/>
<rect x="261" y="769.70" width="10" height="3.6"/>
<rect x="261" y="928.05" width="10" height="3.6"/>
<rect x="261" y="1086.40" width="10" height="3.6"/>
<rect x="261" y="1241.20" width="10" height="3.6"/>
<rect x="422.4" y="1296" width="6.9" height="24.2"/>
<rect x="762.4" y="1296" width="6.9" height="31"/>
<rect x="1100.7" y="1296" width="6.5" height="24.2"/>
<rect x="1441.2" y="1296" width="6.5" height="24.2"/>
<rect x="1778.2" y="1296" width="6.5" height="31"/>
<rect x="2118.2" y="1296" width="6.8" height="24.2"/>
<rect x="591.2" y="1310" width="6.8" height="10.2"/>
<rect x="931.7" y="1310" width="6.5" height="10.2"/>
<rect x="1272.4" y="1310" width="6.5" height="17"/>
<rect x="1610.5" y="1310" width="6.5" height="10.2"/>
<rect x="1950" y="1310" width="6.5" height="10.2"/>
</g>
<g id="labels" shape-rendering="auto" text-rendering="geometricPrecision">
<text transform="translate(110.38,74.1) scale(1.06,1)" font-family="'Liberation Sans', sans-serif" font-size="54.07px" letter-spacing="0.13px" fill="#000000">-620</text>
<text transform="translate(110.38,232.45) scale(1.06,1)" font-family="'Liberation Sans', sans-serif" font-size="54.07px" letter-spacing="0.13px" fill="#000000">-630</text>
<text transform="translate(110.38,390.65) scale(1.06,1)" font-family="'Liberation Sans', sans-serif" font-size="54.07px" letter-spacing="0.13px" fill="#000000">-640</text>
<text transform="translate(110.38,545.6) scale(1.06,1)" font-family="'Liberation Sans', sans-serif" font-size="54.07px" letter-spacing="0.13px" fill="#000000">-650</text>
<text transform="translate(110.38,704.05) scale(1.06,1)" font-family="'Liberation Sans', sans-serif" font-size="54.07px" letter-spacing="0.13px" fill="#000000">-660</text>
<text transform="translate(110.38,862.2) scale(1.06,1)" font-family="'Liberation Sans', sans-serif" font-size="54.07px" letter-spacing="0.13px" fill="#000000">-670</text>
<text transform="translate(110.38,1020.6) scale(1.06,1)" font-family="'Liberation Sans', sans-serif" font-size="54.07px" letter-spacing="0.13px" fill="#000000">-680</text>
<text transform="translate(110.38,1178.9) scale(1.06,1)" font-family="'Liberation Sans', sans-serif" font-size="54.07px" letter-spacing="0.13px" fill="#000000">-690</text>
<text transform="translate(110.38,1337.2) scale(1.06,1)" font-family="'Liberation Sans', sans-serif" font-size="54.07px" letter-spacing="0.13px" fill="#000000">-700</text>
<text transform="translate(407.38,1388.3) scale(1.06,1)" font-family="'Liberation Sans', sans-serif" font-size="53.15px" fill="#000000">0</text>
<text transform="translate(700.08,1388.3) scale(1.06,1)" font-family="'Liberation Sans', sans-serif" font-size="53.15px" letter-spacing="-0.83px" fill="#000000">1000</text>
<text transform="translate(1038.62,1388.3) scale(1.06,1)" font-family="'Liberation Sans', sans-serif" font-size="53.15px" letter-spacing="0.3px" fill="#000000">2000</text>
<text transform="translate(1380.05,1388.3) scale(1.06,1)" font-family="'Liberation Sans', sans-serif" font-size="53.15px" letter-spacing="-1.4px" fill="#000000">3000</text>
<text transform="translate(1717.75,1388.3) scale(1.06,1)" font-family="'Liberation Sans', sans-serif" font-size="53.15px" letter-spacing="-0.39px" fill="#000000">4000</text>
<text transform="translate(2058.2,1388.3) scale(1.06,1)" font-family="'Liberation Sans', sans-serif" font-size="53.15px" letter-spacing="-1.53px" fill="#000000">5000</text>
<text transform="translate(1070.25,1489.3) scale(1.04,1)" font-family="'Liberation Sans', sans-serif" font-size="58.19px" letter-spacing="3.81px" fill="#000000" stroke="#ffffff" stroke-width="0.8" stroke-linejoin="round">Time, S</text>
<text transform="translate(86.2,776.5) rotate(-90)" font-family="'Liberation Sans', sans-serif" font-size="67.46px" letter-spacing="-1.81px" fill="#000000" stroke="#ffffff" stroke-width="0.8" stroke-linejoin="round">E, mV</text>
<text transform="translate(1125.9,366.95) scale(1.08,1)" font-family="'Liberation Sans', sans-serif" font-size="58.71px" letter-spacing="4.12px" fill="#000000" stroke="#ffffff" stroke-width="0.6" stroke-linejoin="round">9Cr</text>
<text transform="translate(1126.4,442.55) scale(1.08,1)" font-family="'Liberation Sans', sans-serif" font-size="57.71px" letter-spacing="4.7px" fill="#000000" stroke="#ffffff" stroke-width="0.6" stroke-linejoin="round">3Cr</text>
<text transform="translate(1126.15,521.65) scale(1.08,1)" font-family="'Liberation Sans', sans-serif" font-size="57.71px" letter-spacing="4.81px" fill="#000000" stroke="#ffffff" stroke-width="0.6" stroke-linejoin="round">5Cr</text>
<text transform="translate(1124.9,597.35) scale(1.08,1)" font-family="'Liberation Sans', sans-serif" font-size="58.49px" letter-spacing="4.17px" fill="#000000" stroke="#ffffff" stroke-width="0.6" stroke-linejoin="round">N80</text>
</g>
<g id="legend" stroke="none">
<rect x="955.6" y="346.2" width="58.4" height="3.6" fill="#000000"/>
<rect x="1052" y="346.2" width="54.6" height="3.6" fill="#000000"/>
<path fill="#000000" d="M1021.1 332.5H1045.2V335.9H1021.1ZM1017.2 335.9H1048.9V359.6H1017.2Z"/>
<rect x="955.6" y="422" width="58.4" height="3.6" fill="#ff0000"/>
<rect x="1052" y="422" width="54.6" height="3.6" fill="#ff0000"/>
<path fill="#ff0000" d="M1031.3 408.1H1034.6V411.5H1031.3ZM1021.1 411.5H1041.5V415H1021.1ZM1021.1 415H1045.2V418.5H1021.1ZM1017.2 418.5H1048.9V428.9H1017.2ZM1021.1 428.9H1045.2V435.7H1021.1ZM1027.9 435.7H1038.1V439.1H1027.9Z"/>
<rect x="955.6" y="501" width="58.4" height="3.6" fill="#00ff00"/>
<rect x="1052" y="501" width="54.6" height="3.6" fill="#00ff00"/>
<path fill="#00ff00" d="M1031.3 480.6H1034.6V487.3H1031.3ZM1027.9 487.3H1038.1V490.8H1027.9ZM1024.4 490.8H1041.5V497.6H1024.4ZM1021.1 497.6H1045.2V504.5H1021.1ZM1017.2 504.5H1048.9V507.8H1017.2ZM1014 507.8H1052V511.2H1014Z"/>
<rect x="955.6" y="576.7" width="58.4" height="3.6" fill="#0000ff"/>
<rect x="1052" y="576.7" width="54.6" height="3.6" fill="#0000ff"/>
<path fill="#0000ff" d="M1014 566.4H1048.9V569.9H1014ZM1014 569.9H1052V573.2H1014ZM1017.2 573.2H1048.9V576.6H1017.2ZM1021.1 576.6H1045.2V583.4H1021.1ZM1024.4 583.4H1041.5V590.3H1024.4ZM1027.9 590.3H1038.1V594H1027.9ZM1031.3 594H1034.6V597.5H1031.3Z"/>
</g>
</svg>
</body></html>
